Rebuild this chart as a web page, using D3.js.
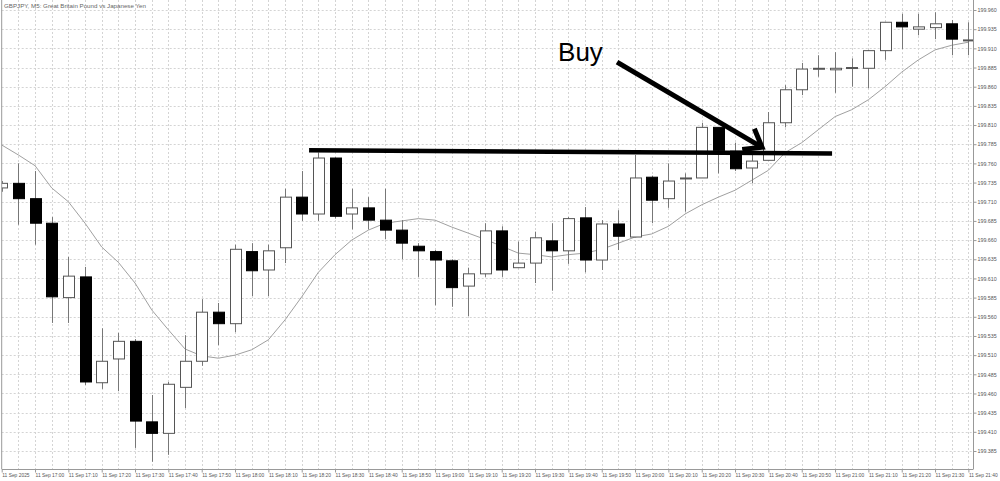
<!DOCTYPE html>
<html>
<head>
<meta charset="utf-8">
<script src="https://cdn.jsdelivr.net/npm/d3@7"></script>
<style>
  html, body { margin: 0; padding: 0; background: #fff; }
  svg { display: block; }
</style>
</head>
<body>
<svg id="chart" width="1000" height="481"></svg>
<script>
// ---- data ----
const title = "GBPJPY, M5: Great Britain Pound vs Japanese Yen";
const candleIndex = d3.range(0, 59);
const open  = [199.728,199.734,199.714,199.682,199.585,199.612,199.474,199.505,199.528,199.423,199.408,199.468,199.502,199.566,199.551,199.645,199.621,199.650,199.716,199.694,199.767,199.694,199.702,199.686,199.673,199.652,199.645,199.633,199.600,199.616,199.672,199.624,199.630,199.659,199.646,199.689,199.634,199.681,199.664,199.742,199.714,199.740,199.741,199.807,199.776,199.754,199.764,199.813,199.856,199.883,199.882,199.884,199.884,199.907,199.944,199.935,199.937,199.942,199.921];
const high  = [199.737,199.760,199.750,199.690,199.638,199.625,199.545,199.539,199.531,199.458,199.475,199.536,199.583,199.578,199.654,199.656,199.654,199.727,199.750,199.774,199.768,199.727,199.716,199.727,199.686,199.656,199.647,199.635,199.624,199.682,199.678,199.658,199.671,199.682,199.690,199.703,199.686,199.699,199.771,199.744,199.760,199.747,199.813,199.807,199.787,199.774,199.827,199.862,199.891,199.901,199.905,199.897,199.908,199.944,199.955,199.955,199.957,199.947,199.944];
const low   = [199.723,199.680,199.654,199.552,199.552,199.471,199.466,199.463,199.389,199.371,199.380,199.441,199.496,199.523,199.540,199.587,199.587,199.630,199.685,199.685,199.688,199.674,199.674,199.661,199.635,199.612,199.575,199.573,199.561,199.612,199.612,199.624,199.604,199.594,199.629,199.618,199.621,199.647,199.664,199.682,199.702,199.697,199.741,199.747,199.750,199.734,199.764,199.807,199.849,199.873,199.852,199.860,199.858,199.895,199.909,199.927,199.922,199.901,199.901];
const close = [199.734,199.714,199.682,199.586,199.613,199.475,199.502,199.528,199.424,199.408,199.472,199.502,199.566,199.551,199.648,199.620,199.646,199.716,199.694,199.767,199.691,199.702,199.686,199.673,199.656,199.646,199.634,199.598,199.616,199.672,199.621,199.630,199.663,199.646,199.688,199.634,199.681,199.665,199.741,199.712,199.737,199.741,199.807,199.777,199.753,199.763,199.813,199.856,199.883,199.884,199.884,199.885,199.907,199.944,199.938,199.938,199.942,199.922,199.921];
const movingAverage = [199.784,199.771,199.757,199.728,199.710,199.682,199.651,199.631,199.604,199.569,199.543,199.518,199.509,199.506,199.510,199.517,199.530,199.556,199.586,199.618,199.641,199.660,199.673,199.682,199.685,199.688,199.686,199.677,199.669,199.661,199.652,199.643,199.641,199.638,199.641,199.643,199.648,199.656,199.664,199.668,199.678,199.694,199.706,199.716,199.725,199.738,199.751,199.774,199.787,199.804,199.821,199.830,199.843,199.860,199.879,199.895,199.908,199.914,199.918];
const xTickLabels = ["11 Sep 2025","11 Sep 17:00","11 Sep 17:10","11 Sep 17:20","11 Sep 17:30","11 Sep 17:40","11 Sep 17:50","11 Sep 18:00","11 Sep 18:10","11 Sep 18:20","11 Sep 18:30","11 Sep 18:40","11 Sep 18:50","11 Sep 19:00","11 Sep 19:10","11 Sep 19:20","11 Sep 19:30","11 Sep 19:40","11 Sep 19:50","11 Sep 20:00","11 Sep 20:10","11 Sep 20:20","11 Sep 20:30","11 Sep 20:40","11 Sep 20:50","11 Sep 21:00","11 Sep 21:10","11 Sep 21:20","11 Sep 21:30","11 Sep 21:40"];
const yTickLabels = ["199.385","199.410","199.435","199.460","199.485","199.510","199.535","199.560","199.585","199.610","199.635","199.660","199.685","199.710","199.735","199.760","199.785","199.810","199.835","199.860","199.885","199.910","199.935","199.960"];
// annotations in data units (candle index, price)
const levelLine = [[18.44, 199.777], [49.82, 199.773]];
const arrowLine = [[36.92, 199.892], [45.62, 199.781]];
const buyLabel = {text: "Buy", i: 33.38, p: 199.8935};

// ---- layout ----
const svg = d3.select("#chart");
const plotLeft = 1.7, plotRight = 973, plotTop = 0, plotBottom = 469;
const x = d3.scaleLinear().domain([0, 58]).range([1.7, 968.4]);
const y = d3.scaleLinear().domain([199.385, 199.960]).range([451, 10]);
const bodyW = 11;

const clip = svg.append("defs").append("clipPath").attr("id", "plotclip")
  .append("rect").attr("x", plotLeft).attr("y", plotTop)
  .attr("width", plotRight - plotLeft).attr("height", plotBottom - plotTop);

const grid = svg.append("g").attr("stroke", "#d4d4d4").attr("stroke-width", 1).attr("stroke-dasharray", "2,2");
grid.selectAll("line.v").data(candleIndex.filter(i => i > 0)).join("line")
  .attr("x1", d => Math.round(x(d)) + 0.5).attr("x2", d => Math.round(x(d)) + 0.5)
  .attr("y1", plotTop).attr("y2", plotBottom);
grid.selectAll("line.h").data(yTickLabels).join("line")
  .attr("x1", plotLeft).attr("x2", plotRight)
  .attr("y1", d => Math.round(y(+d)) + 0.5).attr("y2", d => Math.round(y(+d)) + 0.5);

// title
svg.append("text").attr("x", 4).attr("y", 8)
  .attr("font-family", "Liberation Sans, Arial, sans-serif").attr("font-size", 6.2)
  .attr("fill", "#666").text(title);

const plot = svg.append("g").attr("clip-path", "url(#plotclip)");

// moving average
plot.append("path").datum(movingAverage)
  .attr("fill", "none").attr("stroke", "#a0a0a0").attr("stroke-width", 1)
  .attr("d", d3.line().x((d, i) => x(i)).y(d => y(d)));

// candles
const candles = candleIndex.map(i => ({i, o: open[i], h: high[i], l: low[i], c: close[i]}));
const cg = plot.append("g");
cg.selectAll("line.wick").data(candles).join("line")
  .attr("x1", d => Math.round(x(d.i)) + 0.5).attr("x2", d => Math.round(x(d.i)) + 0.5)
  .attr("y1", d => y(d.h)).attr("y2", d => y(d.l))
  .attr("stroke", "#777").attr("stroke-width", 1);
cg.selectAll("rect.body").data(candles).join("rect")
  .attr("x", d => Math.round(x(d.i) - bodyW / 2) + 0.5)
  .attr("y", d => y(Math.max(d.o, d.c)))
  .attr("width", bodyW)
  .attr("height", d => Math.max(1, Math.abs(y(d.o) - y(d.c))))
  .attr("fill", d => d.c < d.o ? "#000" : "#fff")
  .attr("stroke", d => d.c < d.o ? "#000" : "#555")
  .attr("stroke-width", 1);

// frame
svg.append("line").attr("x1", plotLeft).attr("x2", plotLeft).attr("y1", plotTop).attr("y2", plotBottom).attr("stroke", "#999");
svg.append("line").attr("x1", plotRight + 0.5).attr("x2", plotRight + 0.5).attr("y1", plotTop).attr("y2", plotBottom).attr("stroke", "#999");
svg.append("line").attr("x1", plotLeft).attr("x2", plotRight + 0.5).attr("y1", plotBottom + 0.5).attr("y2", plotBottom + 0.5).attr("stroke", "#999");

// y axis (right)
const yAxisG = svg.append("g").attr("transform", `translate(${plotRight + 0.5},0)`)
  .call(d3.axisRight(y).tickValues(yTickLabels.map(Number)).tickFormat(d3.format(".3f")).tickSize(3).tickPadding(1));
yAxisG.select(".domain").remove();
yAxisG.selectAll("line").attr("stroke", "#999");
yAxisG.selectAll("text").attr("font-family", "Liberation Sans, Arial, sans-serif").attr("font-size", 5.3).attr("fill", "#555");

// x axis (bottom)
const xTickIdx = xTickLabels.map((_, k) => k * 2);
const xAxisG = svg.append("g").attr("transform", `translate(0,${plotBottom + 0.5})`)
  .call(d3.axisBottom(x).tickValues(xTickIdx).tickFormat((d, k) => xTickLabels[k]).tickSize(3).tickPadding(1));
xAxisG.select(".domain").remove();
xAxisG.selectAll("line").attr("stroke", "#999");
xAxisG.selectAll("text").attr("text-anchor", "start").attr("dx", 0)
  .attr("font-family", "Liberation Sans, Arial, sans-serif").attr("font-size", 4.9).attr("fill", "#555");

// annotations
const ann = svg.append("g");
ann.append("line")
  .attr("x1", x(levelLine[0][0])).attr("y1", y(levelLine[0][1]))
  .attr("x2", x(levelLine[1][0])).attr("y2", y(levelLine[1][1]))
  .attr("stroke", "#000").attr("stroke-width", 4.5);
const ax0 = x(arrowLine[0][0]), ay0 = y(arrowLine[0][1]);
const ax1 = x(arrowLine[1][0]), ay1 = y(arrowLine[1][1]);
ann.append("line").attr("x1", ax0).attr("y1", ay0).attr("x2", ax1).attr("y2", ay1)
  .attr("stroke", "#000").attr("stroke-width", 5);
const ang = Math.atan2(ay0 - ay1, ax0 - ax1);
const headLen = 20, spread = 37 * Math.PI / 180;
const hp = [
  [ax1 + headLen * Math.cos(ang + spread), ay1 + headLen * Math.sin(ang + spread)],
  [ax1, ay1],
  [ax1 + headLen * Math.cos(ang - spread), ay1 + headLen * Math.sin(ang - spread)]
];
ann.append("path").attr("d", d3.line()(hp)).attr("fill", "none")
  .attr("stroke", "#000").attr("stroke-width", 5).attr("stroke-linejoin", "miter");
ann.append("text").attr("x", x(buyLabel.i)).attr("y", y(buyLabel.p))
  .attr("font-family", "Liberation Sans, Arial, sans-serif").attr("font-size", 26)
  .attr("fill", "#000").text(buyLabel.text);
</script>
</body>
</html>
